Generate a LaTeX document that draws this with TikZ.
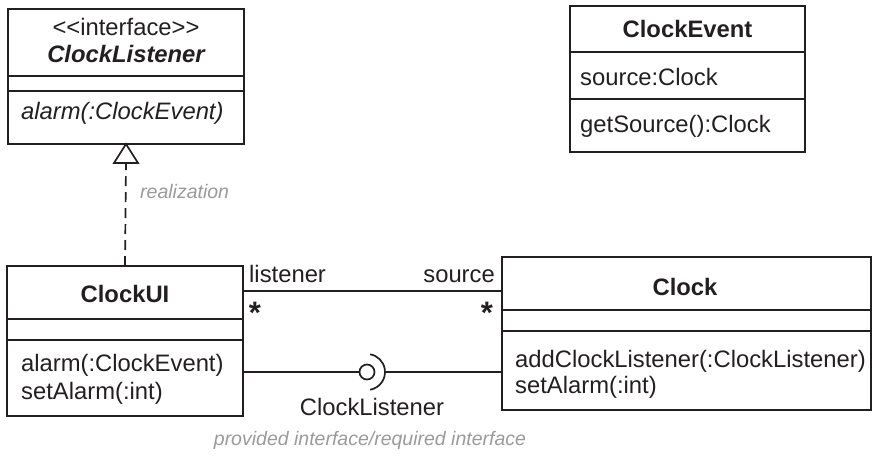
\documentclass[tikz,border=0pt]{standalone}
\usepackage{fontspec}
\setmainfont{Liberation Sans}
\usetikzlibrary{calc}
\definecolor{ink}{HTML}{231F20}
\definecolor{note}{HTML}{9A9A9A}
\tikzset{
  umlbox/.style={draw=ink, line width=1.9pt, rectangle, inner sep=0pt, outer sep=0pt},
  divider/.style={draw=ink, line width=1.9pt},
  conn/.style={draw=ink, line width=1.7pt},
  txt/.style={font=\fontsize{23.8}{28}\selectfont, text=ink, inner sep=0pt, anchor=base},
  lefttxt/.style={txt, anchor=base west},
  multtxt/.style={font=\fontsize{31}{32}\selectfont\bfseries, text=ink, inner sep=0pt, anchor=center},
  notetxt/.style={font=\fontsize{19.5}{23}\selectfont\itshape, text=note, inner sep=0pt, anchor=base west},
}
\begin{document}
\begin{tikzpicture}[x=1pt,y=-1pt]
\useasboundingbox (0,0) rectangle (872,459);
% ClockListener interface
\node[umlbox, minimum width=236pt, minimum height=135pt] (cl) at (126,76.5) {};
\draw[divider] (8,76) -- (244,76);
\draw[divider] (8,91) -- (244,91);
\node[txt] (clst) at (126,35) {<\kern0pt<interface>\kern0pt>};
\node[txt, font=\fontsize{23.8}{28}\selectfont\bfseries\itshape] (clname) at (126,62) {ClockListener};
\node[lefttxt, font=\fontsize{23.8}{28}\selectfont\itshape] (clop) at (21,119) {alarm(:ClockEvent)};
% ClockEvent
\node[umlbox, minimum width=235pt, minimum height=146pt] (ev) at (687.5,79) {};
\draw[divider] (570,52) -- (805,52);
\draw[divider] (570,99) -- (805,99);
\node[txt, font=\fontsize{23.8}{28}\selectfont\bfseries] (evname) at (687.5,37) {ClockEvent};
\node[lefttxt] (evattr) at (580,85) {source:Clock};
\node[lefttxt] (evop) at (580,132) {getSource():Clock};
% ClockUI
\node[umlbox, minimum width=236pt, minimum height=150pt] (ui) at (125,341) {};
\draw[divider] (7,319) -- (243,319);
\draw[divider] (7,340) -- (243,340);
\node[txt, font=\fontsize{23.8}{28}\selectfont\bfseries] (uiname) at (125,302) {ClockUI};
\node[lefttxt] (uiop1) at (21,371) {alarm(:ClockEvent)};
\node[lefttxt] (uiop2) at (21,399) {setAlarm(:int)};
% Clock
\node[umlbox, minimum width=369pt, minimum height=153pt] (clk) at (686.5,333.5) {};
\draw[divider] (502,310) -- (871,310);
\draw[divider] (502,331) -- (871,331);
\node[txt, font=\fontsize{23.8}{28}\selectfont\bfseries] (clkname) at (685,295) {Clock};
\node[lefttxt] (clkop1) at (515,367) {addClockListener(:ClockListener)};
\node[lefttxt] (clkop2) at (515,393) {setAlarm(:int)};
% realization
\coordinate (tritop) at (cl.south);
\coordinate (tribase) at (126,163);
\draw[draw=ink, line width=1.7pt, fill=white, line join=miter] (tritop) -- (114,163) -- (138,163) -- cycle;
\draw[conn, dash pattern=on 10pt off 6pt] (ui.north) -- (tribase);
\node[notetxt] (real) at (140,198) {realization};
% association
\coordinate (aL) at (ui.east |- 0,291);
\coordinate (aR) at (clk.west |- 0,291);
\draw[conn] (aL) -- (aR);
\node[lefttxt] (lis) at (249,282) {listener};
\node[txt, anchor=base east] (src) at (495,282) {source};
\node[multtxt] (m1) at (255,313) {*};
\node[multtxt] (m2) at (487,313) {*};
% ball and socket
\node[circle, draw=ink, line width=1.7pt, minimum size=15pt, inner sep=0pt] (ball) at (367,372) {};
\coordinate (sockR) at (385,372);
\draw[conn] (ui.east |- ball) -- (ball.west);
\draw[conn] (sockR) -- (clk.west |- ball);
\draw[conn] ($(ball.center)+(80:18)$) arc[start angle=80, end angle=-80, radius=18];
\node[txt] (ifname) at (372,415) {ClockListener};
% footer
\node[notetxt, anchor=base] (foot) at (370,445) {provided interface/required interface};
\end{tikzpicture}
\end{document}
